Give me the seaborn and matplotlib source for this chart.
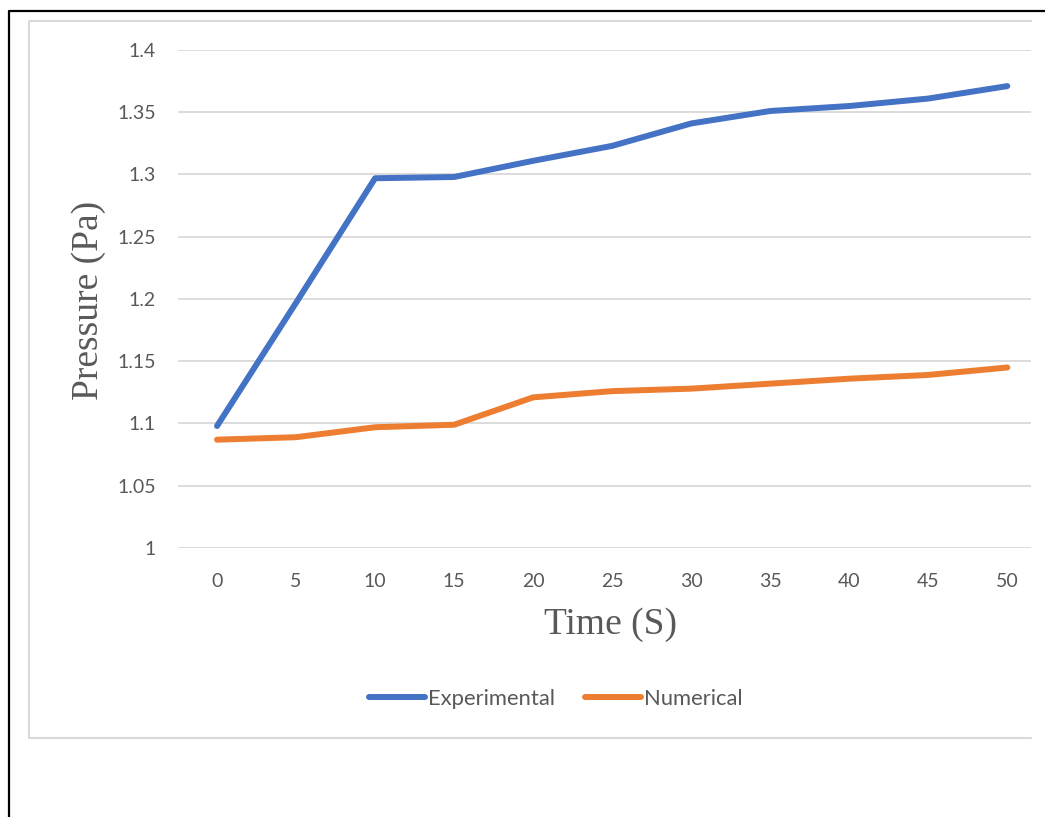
import matplotlib
matplotlib.use("Agg")
import matplotlib.pyplot as plt
from matplotlib.lines import Line2D
import seaborn as sns
import pandas as pd

# Pressure readings over time
time_s = [0, 5, 10, 15, 20, 25, 30, 35, 40, 45, 50]
experimental = [1.098, 1.197, 1.297, 1.298, 1.311, 1.323, 1.341, 1.351, 1.355, 1.361, 1.371]
numerical = [1.087, 1.089, 1.097, 1.099, 1.121, 1.126, 1.128, 1.132, 1.136, 1.139, 1.145]
y_ticks = [1, 1.05, 1.1, 1.15, 1.2, 1.25, 1.3, 1.35, 1.4]
y_tick_labels = ["1", "1.05", "1.1", "1.15", "1.2", "1.25", "1.3", "1.35", "1.4"]
series_names = ["Experimental", "Numerical"]
series_colors = ["#4472C4", "#ED7D31"]

df = pd.DataFrame({
    "Time": time_s * 2,
    "Pressure": experimental + numerical,
    "Series": [series_names[0]] * len(time_s) + [series_names[1]] * len(time_s),
})

sns.set_style("white")
plt.rcParams["font.family"] = ["Lato", "DejaVu Sans"]

W, H = 1045, 817
fig = plt.figure(figsize=(W / 100, H / 100), dpi=100)
ax = fig.add_axes([178 / W, 1 - 548 / H, (1031 - 178) / W, (548 - 50) / H])

sns.lineplot(data=df, x="Time", y="Pressure", hue="Series",
             palette=series_colors, linewidth=4.3, ax=ax,
             solid_capstyle="round", solid_joinstyle="round")

ax.set_xlim(-2.47, 51.5)
ax.set_ylim(1, 1.4)
ax.set_xticks(time_s)
ax.set_xticklabels([str(t) for t in time_s])
ax.set_yticks(y_ticks)
ax.set_yticklabels(y_tick_labels)
ax.grid(axis="y", color="#D9D9D9", linewidth=1.3)
ax.grid(axis="x", visible=False)
ax.set_axisbelow(True)
for s in ax.spines.values():
    s.set_visible(False)
ax.tick_params(axis="both", length=0, labelsize=14, labelcolor="#595959")
ax.tick_params(axis="y", pad=16)
ax.tick_params(axis="x", pad=18)

serif = ["Liberation Serif", "DejaVu Serif"]
ax.set_xlabel("Time (S)", family=serif, fontsize=27, color="#595959")
ax.set_ylabel("Pressure (Pa)", family=serif, fontsize=27, color="#595959")
ax.xaxis.set_label_coords((610 - 178) / 853, (548 - 607) / 498)
ax.yaxis.set_label_coords((106 - 178) / 853, (548 - 300) / 498)

handles, labels = ax.get_legend_handles_labels()
ax.legend(handles=handles, labels=labels, loc="center",
          bbox_to_anchor=(556 / W, 1 - 699 / H), bbox_transform=fig.transFigure,
          ncol=2, frameon=False, fontsize=15.8, handlelength=2.55,
          handletextpad=0.15, columnspacing=1.35, labelcolor="#595959")

# Frames around the chart area
def fig_line(xs, ys, color, lw):
    fig.add_artist(Line2D([x / W for x in xs], [1 - y / H for y in ys],
                          transform=fig.transFigure, color=color, linewidth=lw))

fig_line([29, 29, 1031], [738, 21, 21], "#D9D9D9", 1.5)
fig_line([29, 1031], [738, 738], "#D9D9D9", 1.5)
fig_line([8.5, 8.5, 1045], [817, 10.5, 10.5], "black", 1.6)

fig.savefig("out.png", dpi=100, facecolor="white")
